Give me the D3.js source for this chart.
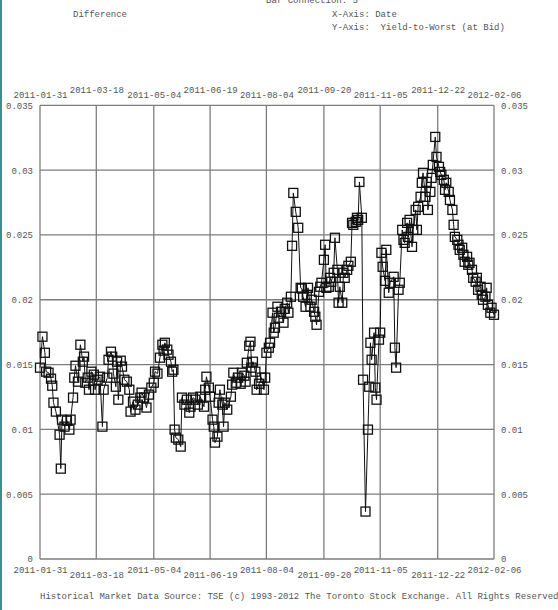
<!DOCTYPE html>
<html>
<head>
<meta charset="utf-8">
<script src="https://cdn.jsdelivr.net/npm/d3@7"></script>
<style>
  html, body { margin: 0; padding: 0; background: #fff; }
  svg { display: block; }
  text { font-family: "Liberation Mono", "DejaVu Sans Mono", monospace; font-size: 9px; fill: #555; white-space: pre; }
</style>
</head>
<body>
<svg id="chart" width="558" height="610"></svg>
<script>
// Observation dates of the yield-to-worst difference series
const dates = [
  "2011-01-31","2011-02-02","2011-02-04","2011-02-05","2011-02-07","2011-02-09","2011-02-10","2011-02-11","2011-02-13","2011-02-16",
  "2011-02-17","2011-02-18","2011-02-20","2011-02-22","2011-02-24","2011-02-25","2011-02-27","2011-02-28","2011-03-01","2011-03-03",
  "2011-03-05","2011-03-07","2011-03-08","2011-03-09","2011-03-11","2011-03-12","2011-03-14","2011-03-16","2011-03-17","2011-03-19",
  "2011-03-21","2011-03-23","2011-03-24","2011-03-27","2011-03-28","2011-03-30","2011-03-31","2011-04-01","2011-04-03","2011-04-04",
  "2011-04-05","2011-04-07","2011-04-08","2011-04-10","2011-04-12","2011-04-14","2011-04-15","2011-04-17","2011-04-19","2011-04-21",
  "2011-04-23","2011-04-24","2011-04-26","2011-04-28","2011-04-30","2011-05-02","2011-05-04","2011-05-05","2011-05-07","2011-05-09",
  "2011-05-11","2011-05-12","2011-05-13","2011-05-15","2011-05-16","2011-05-18","2011-05-19","2011-05-20","2011-05-21","2011-05-22",
  "2011-05-24","2011-05-26","2011-05-27","2011-05-29","2011-05-31","2011-06-02","2011-06-03","2011-06-05","2011-06-07","2011-06-09",
  "2011-06-11","2011-06-14","2011-06-15","2011-06-16","2011-06-18","2011-06-19","2011-06-21","2011-06-22","2011-06-23","2011-06-25",
  "2011-06-26","2011-06-27","2011-06-29","2011-06-30","2011-07-01","2011-07-03","2011-07-06","2011-07-07","2011-07-08","2011-07-10",
  "2011-07-12","2011-07-14","2011-07-15","2011-07-17","2011-07-18","2011-07-19","2011-07-21","2011-07-22","2011-07-23","2011-07-24",
  "2011-07-26","2011-07-27","2011-07-29","2011-07-31","2011-08-02","2011-08-03","2011-08-04","2011-08-06","2011-08-07","2011-08-09",
  "2011-08-10","2011-08-11","2011-08-13","2011-08-14","2011-08-16","2011-08-18","2011-08-19","2011-08-21","2011-08-22","2011-08-24",
  "2011-08-25","2011-08-26","2011-08-28","2011-08-30","2011-09-01","2011-09-02","2011-09-03","2011-09-05","2011-09-06","2011-09-07",
  "2011-09-09","2011-09-10","2011-09-12","2011-09-13","2011-09-14","2011-09-16","2011-09-17","2011-09-18","2011-09-20","2011-09-21",
  "2011-09-22","2011-09-24","2011-09-25","2011-09-26","2011-09-28","2011-09-29","2011-10-01","2011-10-02","2011-10-03","2011-10-05",
  "2011-10-06","2011-10-07","2011-10-09","2011-10-10","2011-10-12","2011-10-13","2011-10-14","2011-10-16","2011-10-17","2011-10-18",
  "2011-10-19","2011-10-21","2011-10-22","2011-10-24","2011-10-26","2011-10-27","2011-10-28","2011-10-29","2011-10-31","2011-11-01",
  "2011-11-02","2011-11-04","2011-11-05","2011-11-06","2011-11-07","2011-11-09","2011-11-10","2011-11-12","2011-11-13","2011-11-16",
  "2011-11-17","2011-11-18","2011-11-20","2011-11-21","2011-11-23","2011-11-24","2011-11-25","2011-11-27","2011-11-28","2011-11-29",
  "2011-12-01","2011-12-02","2011-12-04","2011-12-05","2011-12-06","2011-12-08","2011-12-09","2011-12-10","2011-12-12","2011-12-13",
  "2011-12-14","2011-12-16","2011-12-17","2011-12-18","2011-12-20","2011-12-21","2011-12-23","2011-12-24","2011-12-25","2011-12-27",
  "2011-12-28","2011-12-29","2011-12-31","2012-01-01","2012-01-03","2012-01-04","2012-01-05","2012-01-07","2012-01-08","2012-01-09",
  "2012-01-11","2012-01-12","2012-01-13","2012-01-15","2012-01-16","2012-01-17","2012-01-19","2012-01-20","2012-01-22","2012-01-23",
  "2012-01-24","2012-01-26","2012-01-27","2012-01-28","2012-01-30","2012-01-31","2012-02-01","2012-02-03","2012-02-04","2012-02-06"
];

// Yield-to-worst difference at each date
const values = [
  0.01476,0.01715,0.01591,0.01445,0.01437,0.01391,0.01337,0.01206,0.01137,0.00959,
  0.00697,0.01075,0.01021,0.01067,0.00998,0.01075,0.01245,0.01399,0.01491,0.01368,
  0.01653,0.01522,0.01561,0.01360,0.01399,0.01306,0.01445,0.01422,0.01306,0.01383,
  0.01406,0.01021,0.01306,0.01399,0.01537,0.01599,0.01561,0.01430,0.01329,0.01522,
  0.01229,0.01530,0.01484,0.01383,0.01368,0.01306,0.01137,0.01214,0.01152,0.01191,
  0.01245,0.01283,0.01245,0.01168,0.01268,0.01322,0.01360,0.01445,0.01430,0.01553,
  0.01653,0.01607,0.01668,0.01615,0.01576,0.01522,0.01445,0.01460,0.00998,0.00936,
  0.00921,0.00867,0.01245,0.01191,0.01229,0.01129,0.01175,0.01245,0.01229,0.01191,
  0.01252,0.01175,0.01306,0.01406,0.01322,0.01252,0.01075,0.01021,0.00898,0.00944,
  0.01206,0.01306,0.01191,0.01021,0.01206,0.01152,0.01252,0.01345,0.01437,0.01360,
  0.01399,0.01352,0.01437,0.01414,0.01368,0.01514,0.01645,0.01676,0.01476,0.01522,
  0.01445,0.01306,0.01352,0.01399,0.01306,0.01399,0.01591,0.01630,0.01668,0.01900,
  0.01746,0.01784,0.01946,0.01861,0.01907,0.01823,0.01930,0.01977,0.01900,0.02023,
  0.02416,0.02824,0.02678,0.02555,0.02092,0.02086,0.02023,0.01946,0.02038,0.02092,
  0.01946,0.02000,0.01907,0.01869,0.01807,0.02061,0.02100,0.02131,0.02308,0.02424,
  0.02092,0.02100,0.02169,0.02139,0.02208,0.02478,0.02231,0.01977,0.02100,0.01977,
  0.02208,0.02169,0.02231,0.02262,0.02293,0.02593,0.02578,0.02601,0.02632,0.02616,
  0.02909,0.02632,0.01383,0.00366,0.00998,0.01329,0.01668,0.01537,0.01746,0.01322,
  0.01229,0.01692,0.01746,0.02362,0.02254,0.02146,0.02385,0.02054,0.02131,0.02177,
  0.01630,0.01476,0.02077,0.02131,0.02539,0.02462,0.02439,0.02593,0.02485,0.02616,
  0.02408,0.02539,0.02693,0.02539,0.02717,0.02794,0.02902,0.02979,0.02794,0.02909,
  0.02693,0.02832,0.02940,0.03040,0.03256,0.03102,0.03025,0.02986,0.02963,0.02925,
  0.02848,0.02902,0.02832,0.02770,0.02693,0.02578,0.02485,0.02462,0.02424,0.02385,
  0.02401,0.02347,0.02293,0.02331,0.02270,0.02285,0.02231,0.02169,0.02139,0.02169,
  0.02077,0.02100,0.02038,0.02000,0.02023,0.02092,0.01961,0.01900,0.01938,0.01884
];

// Date axis labels (top and bottom) and value axis ticks
const dateTicks = ["2011-01-31","2011-03-18","2011-05-04","2011-06-19","2011-08-04",
                   "2011-09-20","2011-11-05","2011-12-22","2012-02-06"];
const valueTicks = [0, 0.005, 0.01, 0.015, 0.02, 0.025, 0.03, 0.035];

// Header and footer text
const headerTop = "Bar Connection: 5";
const seriesTitle = "Difference";
const xAxisNote = "X-Axis: Date";
const yAxisNote = "Y-Axis:  Yield-to-Worst (at Bid)";
const sourceNote = "Historical Market Data Source: TSE (c) 1993-2012 The Toronto Stock Exchange. All Rights Reserved";

const parse = d3.utcParse("%Y-%m-%d");
const points = dates.map((d, i) => ({ date: parse(d), value: values[i] }));

const svg = d3.select("#chart");
const L = 40, R = 494, T = 105.3, B = 559;

const x = d3.scaleUtc()
  .domain([parse(dateTicks[0]), parse(dateTicks[dateTicks.length - 1])])
  .range([L, R]);
const y = d3.scaleLinear().domain([0, 0.035]).range([B, T]);

// thin teal page edge on the left
svg.append("rect").attr("x", 0).attr("y", 0).attr("width", 2).attr("height", 610).attr("fill", "#3d8d93");

// header
svg.append("text").attr("x", 312).attr("y", 3).attr("text-anchor", "middle").text(headerTop);
svg.append("text").attr("x", 73).attr("y", 17).text(seriesTitle);
svg.append("text").attr("x", 332).attr("y", 17).text(xAxisNote);
svg.append("text").attr("x", 332).attr("y", 30).text(yAxisNote);

// grid
const grid = svg.append("g").attr("stroke", "#7d7d7d").attr("stroke-width", 1.3).attr("fill", "none");
grid.selectAll("line.v").data(dateTicks).join("line")
  .attr("x1", d => x(parse(d))).attr("x2", d => x(parse(d)))
  .attr("y1", T).attr("y2", B);
grid.selectAll("line.h").data(valueTicks).join("line")
  .attr("x1", L).attr("x2", R)
  .attr("y1", d => y(d)).attr("y2", d => y(d));

// value axes, left and right
const fmt = d => String(+d.toFixed(3));
const yLeft = svg.append("g").attr("transform", `translate(${L},0)`)
  .call(d3.axisLeft(y).tickValues(valueTicks).tickFormat(fmt).tickSize(0).tickPadding(7));
const yRight = svg.append("g").attr("transform", `translate(${R},0)`)
  .call(d3.axisRight(y).tickValues(valueTicks).tickFormat(fmt).tickSize(0).tickPadding(7));
[yLeft, yRight].forEach(g => {
  g.select(".domain").remove();
  g.selectAll("text").attr("font-family", null).attr("font-size", null);
});

// date axes, top and bottom, with staggered labels
const xTop = svg.append("g").attr("transform", `translate(0,${T})`)
  .call(d3.axisTop(x).tickValues(dateTicks.map(parse)).tickFormat(d3.utcFormat("%Y-%m-%d")).tickSize(0));
xTop.selectAll("text").attr("font-family", null).attr("font-size", null)
  .attr("dy", null).attr("y", (d, i) => i % 2 === 0 ? -7 : -12);
const xBottom = svg.append("g").attr("transform", `translate(0,${B})`)
  .call(d3.axisBottom(x).tickValues(dateTicks.map(parse)).tickFormat(d3.utcFormat("%Y-%m-%d")).tickSize(0));
xBottom.selectAll("text").attr("font-family", null).attr("font-size", null)
  .attr("dy", null).attr("y", (d, i) => i % 2 === 0 ? 13.5 : 18.5);
[xTop, xBottom].forEach(g => g.select(".domain").remove());

// series: connecting line and open square markers
const line = d3.line().x(d => x(d.date)).y(d => y(d.value));
svg.append("path").datum(points)
  .attr("d", line).attr("fill", "none").attr("stroke", "#111").attr("stroke-width", 1);

const s = 9;
svg.append("g").selectAll("rect").data(points).join("rect")
  .attr("x", d => x(d.date) - s / 2).attr("y", d => y(d.value) - s / 2)
  .attr("width", s).attr("height", s)
  .attr("fill", "none").attr("stroke", "#111").attr("stroke-width", 1.3);

// footer
svg.append("text").attr("x", 40).attr("y", 599).text(sourceNote);
</script>
</body>
</html>
